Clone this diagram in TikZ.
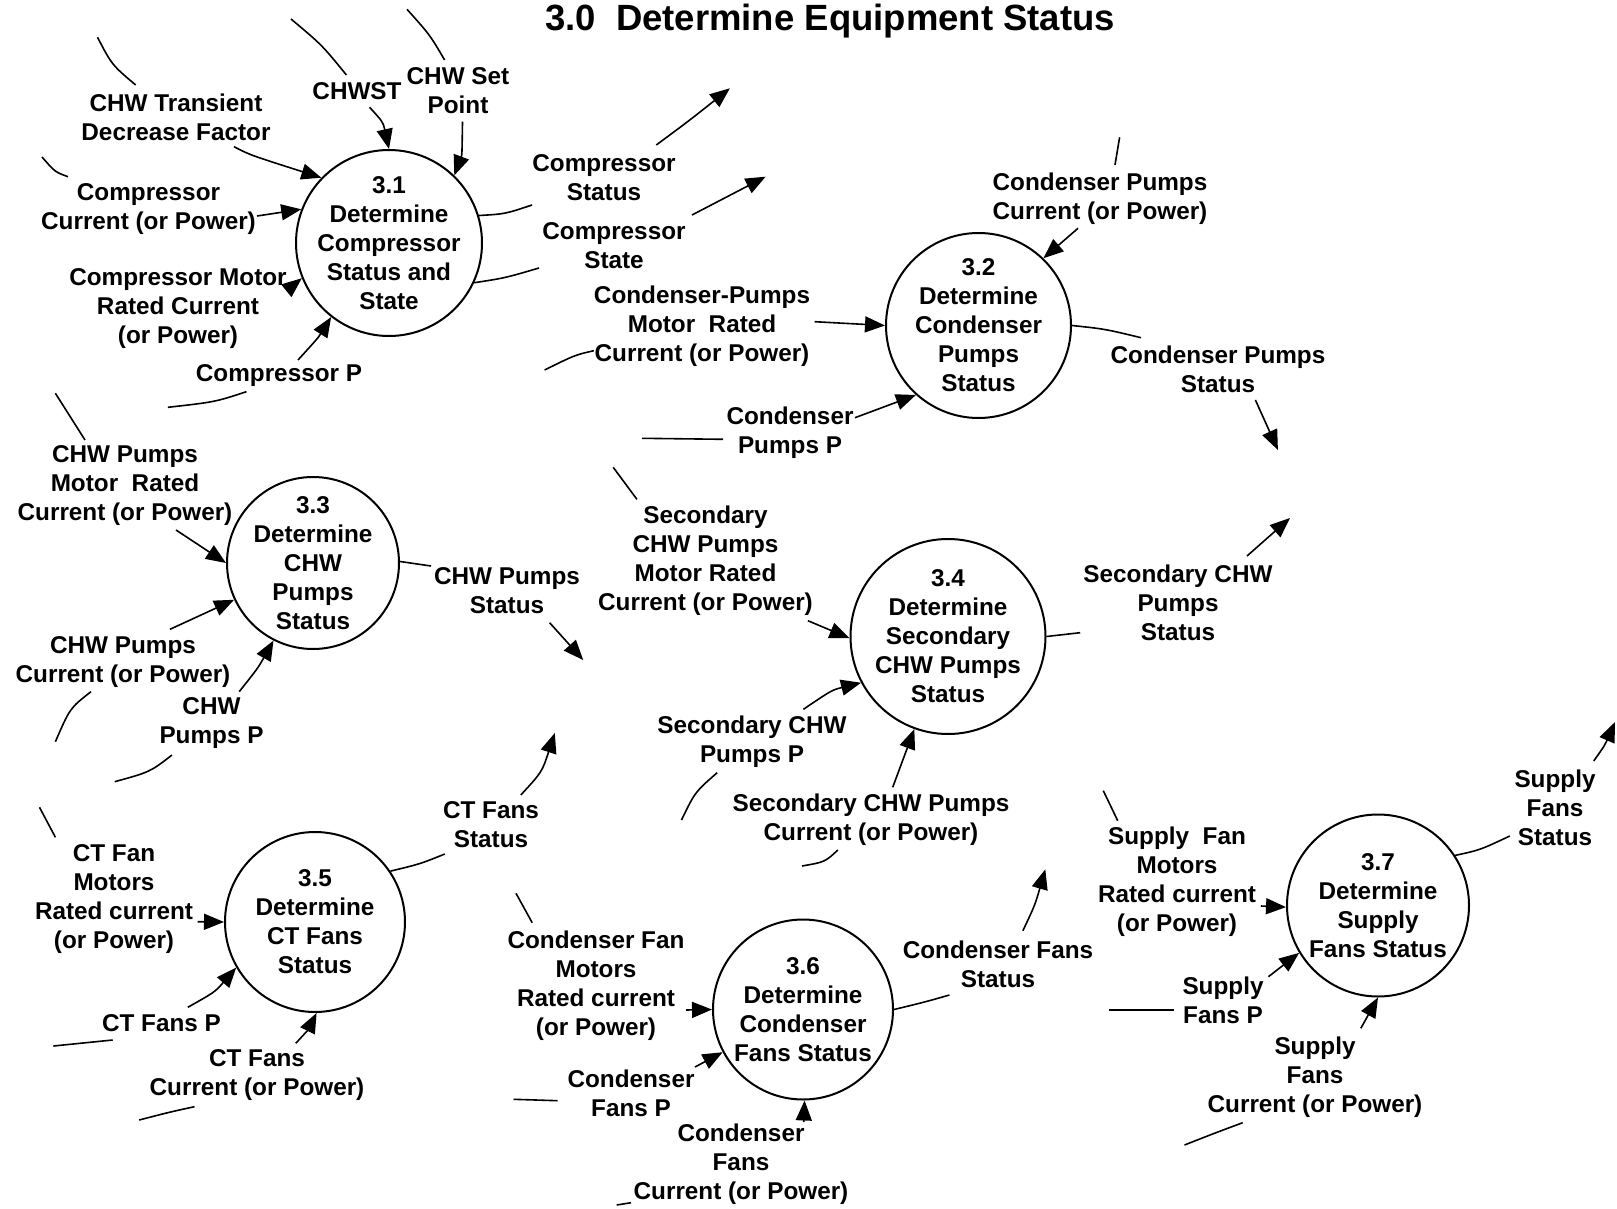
\documentclass[tikz,border=0pt]{standalone}
\usepackage{fontspec}
\setmainfont{Liberation Sans}
\usetikzlibrary{arrows.meta}
\begin{document}
\begin{tikzpicture}[x=1pt,y=-1pt,
  lab/.style={font=\bfseries\fontsize{24.3}{29}\selectfont, align=center, inner sep=0pt},
  ttl/.style={font=\bfseries\fontsize{36.5}{40}\selectfont, inner sep=0pt},
  proc/.style={draw, circle, line width=2pt, inner sep=0pt, minimum size=#1},
  flowtail/.style={line width=1.6pt},
  flowhead/.style={line width=1.6pt, -{Triangle[length=20pt,width=16pt]}},
]
\fill[white] (0,0) rectangle (1617,1209);
\useasboundingbox (0,0) rectangle (1617,1209);

% title
\node[ttl] (title) at (830,21) {3.0\ \ Determine Equipment Status};

% processes
\node[proc=186pt] (c31) at (389,243) {};
\node[lab] (c31t) at (c31) {3.1\\Determine\\Compressor\\Status and\\State};
\node[proc=185pt] (c32) at (978.5,325.5) {};
\node[lab] (c32t) at (c32) {3.2\\Determine\\Condenser\\Pumps\\Status};
\node[proc=172pt] (c33) at (313,563) {};
\node[lab] (c33t) at (c33) {3.3\\Determine\\CHW\\Pumps\\Status};
\node[proc=195pt] (c34) at (948,636.5) {};
\node[lab] (c34t) at (c34) {3.4\\Determine\\Secondary\\CHW Pumps\\Status};
\node[proc=180pt] (c35) at (315,922) {};
\node[lab] (c35t) at (c35) {3.5\\Determine\\CT Fans\\Status};
\node[proc=180pt] (c36) at (803,1009.5) {};
\node[lab] (c36t) at (c36) {3.6\\Determine\\Condenser\\Fans Status};
\node[proc=182pt] (c37) at (1378,905.5) {};
\node[lab] (c37t) at (c37) {3.7\\Determine\\Supply\\Fans Status};

% labels
\node[lab] (l1) at (176,117) {CHW Transient\\Decrease Factor};
\node[lab] (l2) at (357,91) {CHWST};
\node[lab] (l3) at (458,91) {CHW Set\\Point};
\node[lab] (l4) at (148.5,209.5) {Compressor\\Current (or Power)};
\node[lab] (l5) at (178,309) {Compressor Motor\\Rated Current\\(or Power)};
\node[lab] (l6) at (279,375.5) {Compressor P};
\node[lab] (l7) at (604,177.5) {Compressor\\Status};
\node[lab] (l8) at (614,245.5) {Compressor\\State};
\node[lab] (l9) at (702,326.5) {Condenser-Pumps\\Motor\ \ Rated\\Current (or Power)};
\node[lab] (l10) at (790,433) {Condenser\\Pumps P};
\node[lab] (l11) at (1100,198.5) {Condenser Pumps\\Current (or Power)};
\node[lab] (l12) at (1218,369.5) {Condenser Pumps\\Status};
\node[lab] (l13) at (125,485.5) {CHW Pumps\\Motor\ \ Rated\\Current (or Power)};
\node[lab] (l14) at (123,662) {CHW Pumps\\Current (or Power)};
\node[lab] (l15) at (211.5,723.5) {CHW\\Pumps P};
\node[lab] (l16) at (507,590.5) {CHW Pumps\\Status};
\node[lab] (l17) at (705.5,561) {Secondary\\CHW Pumps\\Motor Rated\\Current (or Power)};
\node[lab] (l18) at (752,741.5) {Secondary CHW\\Pumps P};
\node[lab] (l19) at (871,820) {Secondary CHW Pumps\\Current (or Power)};
\node[lab] (l20) at (1178,602.5) {Secondary CHW\\Pumps\\Status};
\node[lab] (l21) at (1177,882) {Supply\ \ Fan\\Motors\\Rated current\\(or Power)};
\node[lab] (l22) at (1223,1000) {Supply\\Fans P};
\node[lab] (l23) at (1315,1077) {Supply\\Fans\\Current (or Power)};
\node[lab] (l24) at (1555,808) {Supply\\Fans\\Status};
\node[lab] (l25) at (114,899) {CT Fan\\Motors\\Rated current\\(or Power)};
\node[lab] (l26) at (161.5,1023.5) {CT Fans P};
\node[lab] (l27) at (257,1075) {CT Fans\\Current (or Power)};
\node[lab] (l28) at (491,824.5) {CT Fans\\Status};
\node[lab] (l29) at (596,986) {Condenser Fan\\Motors\\Rated current\\(or Power)};
\node[lab] (l30) at (631,1093.5) {Condenser\\Fans P};
\node[lab] (l31) at (741,1164) {Condenser\\Fans\\Current (or Power)};
\node[lab] (l32) at (998,964) {Condenser Fans\\Status};

% free ends and label-side points
\coordinate (a1) at (97.5,37.3);   \coordinate (b1) at (135.7,85);   \coordinate (d1) at (234,146.7);
\coordinate (a2) at (291,19);      \coordinate (b2) at (346.4,75);   \coordinate (d2) at (369.6,107.3);
\coordinate (a3) at (407,9.3);     \coordinate (b3) at (444.6,60);   \coordinate (d3) at (462.5,121.7);
\coordinate (a4) at (42,157);      \coordinate (b4) at (68,176.7);   \coordinate (d4) at (257,216);
\coordinate (d5) at (291,287);
\coordinate (a6) at (167.9,407.3); \coordinate (b6) at (246.4,391.7); \coordinate (d6) at (298,360);
\coordinate (b7) at (532,205);     \coordinate (d7) at (656.3,145);  \coordinate (e7) at (729.9,88.3);
\coordinate (b8) at (539,268);     \coordinate (d8) at (692,215);    \coordinate (e8) at (765.6,176.7);
\coordinate (a9) at (544.6,370);   \coordinate (b9) at (593.8,350.7); \coordinate (d9) at (814.7,321.7);
\coordinate (a10) at (642,438.3);  \coordinate (b10) at (723,439.3); \coordinate (d10) at (855,417.7);
\coordinate (a11) at (1119.6,137.3); \coordinate (b11) at (1115,165); \coordinate (d11) at (1078,228.3);
\coordinate (b12) at (1141,337.7); \coordinate (d12) at (1255.4,400); \coordinate (e12) at (1277.9,450);
\coordinate (a13) at (55.4,393.3); \coordinate (b13) at (85,440);    \coordinate (d13) at (176,530);
\coordinate (a14) at (55.4,741.7); \coordinate (b14) at (91,691.7);  \coordinate (d14) at (170,629.3);
\coordinate (a15) at (114.7,781.7); \coordinate (b15) at (172,755);  \coordinate (d15) at (239.2,691.7);
\coordinate (b16) at (431,566);    \coordinate (d16) at (549.6,622.7); \coordinate (e16) at (583.2,660);
\coordinate (a17) at (613.2,467.3); \coordinate (b17) at (636.9,499.3); \coordinate (d17) at (807.9,620.7);
\coordinate (a18) at (681.5,820);  \coordinate (b18) at (717.2,772.7); \coordinate (d18) at (803.4,709.3);
\coordinate (a19) at (802,866);    \coordinate (b19) at (837.8,850); \coordinate (d19) at (892.7,787.3);
\coordinate (b20) at (1080.2,632.7); \coordinate (d20) at (1247,556); \coordinate (e20) at (1290,518);
\coordinate (a21) at (1103.3,790.7); \coordinate (b21) at (1117.7,820.7); \coordinate (d21) at (1260.8,906);
\coordinate (a22) at (1109,1010);  \coordinate (b22) at (1174.2,1010); \coordinate (d22) at (1268.4,976.7);
\coordinate (a23) at (1184.5,1145); \coordinate (b23) at (1242.7,1122.7); \coordinate (d23) at (1360.8,1028.3);
\coordinate (b24) at (1509.8,836); \coordinate (d24) at (1593.7,761); \coordinate (e24) at (1615,722);
\coordinate (a25) at (39.5,807.3); \coordinate (b25) at (55.4,837.3); \coordinate (d25) at (197.7,921.7);
\coordinate (a26) at (53.4,1046);  \coordinate (b26) at (112.7,1040); \coordinate (d26) at (187.8,1007.3);
\coordinate (a27) at (139.2,1120); \coordinate (b27) at (194.5,1106.7); \coordinate (d27) at (295.8,1043.3);
\coordinate (b28) at (444.8,854);  \coordinate (d28) at (520.8,795);  \coordinate (e28) at (554.8,733);
\coordinate (a29) at (516,893.3);  \coordinate (b29) at (532.2,922.7); \coordinate (d29) at (686,1010);
\coordinate (a30) at (513.5,1099.3); \coordinate (b30) at (557.6,1100.7); \coordinate (d30) at (695,1067);
\coordinate (a31) at (616.7,1205); \coordinate (b31) at (631,1202.7); \coordinate (d31) at (803.7,1122);
\coordinate (b32) at (949.4,995);  \coordinate (d32) at (1022.9,930.7); \coordinate (e32) at (1045.3,869.3);

% 3.1 inputs
\draw[flowtail] (a1) .. controls (112,65) .. (b1);
\draw[flowhead] (d1) .. controls (250,155) .. (c31.136);
\draw[flowtail] (a2) .. controls (322,45) .. (b2);
\draw[flowhead] (d2) .. controls (383,122) .. (c31.90);
\draw[flowtail] (a3) .. controls (430,35) .. (b3);
\draw[flowhead] (d3) .. controls (462,155) .. (c31.46);
\draw[flowtail] (a4) .. controls (55,172) .. (b4);
\draw[flowhead] (d4) -- (c31.159);
\draw[flowhead] (d5) -- (c31.202);
\draw[flowtail] (a6) .. controls (215,402) .. (b6);
\draw[flowhead] (d6) .. controls (318,338) .. (c31.232);
% 3.1 outputs
\draw[flowtail] (c31.17) .. controls (505,214) .. (b7);
\draw[flowhead] (d7) .. controls (690,120) .. (e7);
\draw[flowtail] (c31.335) .. controls (505,278) .. (b8);
\draw[flowhead] (d8) -- (e8);
% 3.2
\draw[flowtail] (a9) .. controls (575,355) .. (b9);
\draw[flowhead] (d9) -- (c32.180);
\draw[flowtail] (a10) -- (b10);
\draw[flowhead] (d10) -- (c32.228);
\draw[flowtail] (a11) -- (b11);
\draw[flowhead] (d11) -- (c32.46);
\draw[flowtail] (c32.0) .. controls (1105,329) .. (b12);
\draw[flowhead] (d12) -- (e12);
% 3.3
\draw[flowtail] (a13) -- (b13);
\draw[flowhead] (d13) -- (c33.180);
\draw[flowtail] (a14) .. controls (70,708) .. (b14);
\draw[flowhead] (d14) -- (c33.205);
\draw[flowtail] (a15) .. controls (150,772) .. (b15);
\draw[flowhead] (d15) .. controls (258,668) .. (c33.243);
\draw[flowtail] (c33.1) -- (b16);
\draw[flowhead] (d16) -- (e16);
% 3.4
\draw[flowtail] (a17) -- (b17);
\draw[flowhead] (d17) -- (c34.181);
\draw[flowtail] (a18) .. controls (695,792) .. (b18);
\draw[flowhead] (d18) .. controls (832,690) .. (c34.208);
\draw[flowtail] (a19) .. controls (825,862) .. (b19);
\draw[flowhead] (d19) -- (c34.250);
\draw[flowtail] (c34.0) -- (b20);
\draw[flowhead] (d20) -- (e20);
% 3.7
\draw[flowtail] (a21) -- (b21);
\draw[flowhead] (d21) -- (c37.181);
\draw[flowtail] (a22) -- (b22);
\draw[flowhead] (d22) -- (c37.211);
\draw[flowtail] (a23) .. controls (1215,1133) .. (b23);
\draw[flowhead] (d23) -- (c37.270);
\draw[flowtail] (c37.33) .. controls (1480,850) .. (b24);
\draw[flowhead] (d24) .. controls (1605,745) .. (e24);
% 3.5
\draw[flowtail] (a25) -- (b25);
\draw[flowhead] (d25) -- (c35.180);
\draw[flowtail] (a26) -- (b26);
\draw[flowhead] (d26) .. controls (215,992) .. (c35.210);
\draw[flowtail] (a27) .. controls (170,1112) .. (b27);
\draw[flowhead] (d27) .. controls (308,1030) .. (c35.271);
\draw[flowtail] (c35.34) .. controls (420,864) .. (b28);
\draw[flowhead] (d28) .. controls (542,772) .. (e28);
% 3.6
\draw[flowtail] (a29) -- (b29);
\draw[flowhead] (d29) -- (c36.180);
\draw[flowtail] (a30) -- (b30);
\draw[flowhead] (d30) -- (c36.208);
\draw[flowtail] (a31) -- (b31);
\draw[flowhead] (d31) -- (c36.271);
\draw[flowtail] (c36.0) .. controls (925,1002) .. (b32);
\draw[flowhead] (d32) .. controls (1035,905) .. (e32);
\end{tikzpicture}
\end{document}
